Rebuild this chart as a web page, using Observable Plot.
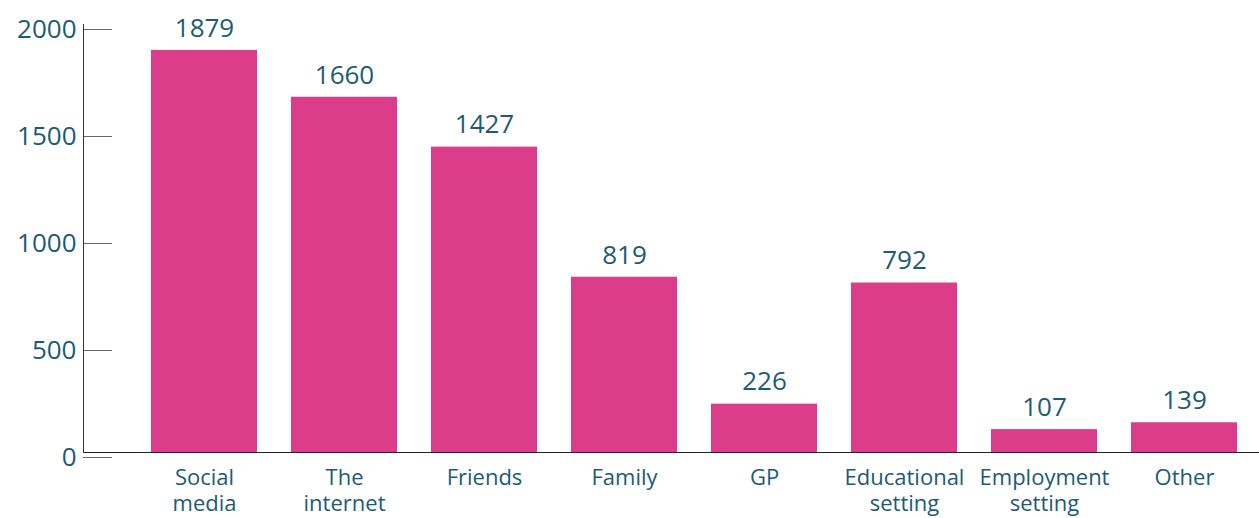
<!DOCTYPE html>
<html>
<head>
<meta charset="utf-8">
<script src="https://cdn.jsdelivr.net/npm/d3@7"></script>
<script src="https://cdn.jsdelivr.net/npm/@observablehq/plot@0.6"></script>
<style>
  html, body { margin: 0; padding: 0; background: #fff; }
  #chart svg { display: block; }
</style>
</head>
<body>
<div id="chart"></div>
<script>
const categories = ["Social media", "The internet", "Friends", "Family", "GP", "Educational setting", "Employment setting", "Other"];
const values = [1879, 1660, 1427, 819, 226, 792, 107, 139];
const tickLabels = ["Social\nmedia", "The\ninternet", "Friends", "Family", "GP", "Educational\nsetting", "Employment\nsetting", "Other"];
const yTicks = [0, 500, 1000, 1500, 2000];

const data = categories.map((c, i) => ({category: c, value: values[i]}));
const labelOf = new Map(categories.map((c, i) => [c, tickLabels[i]]));

const textColor = "#1d5b74";
const barColor = "#db3d8b";

const chart = Plot.plot({
  width: 1259,
  height: 518,
  marginLeft: 83,
  marginRight: 0,
  marginTop: 24,
  marginBottom: 66,
  style: {fontFamily: "'Open Sans', Inter, sans-serif", background: "#fff"},
  x: {domain: categories, range: [134, 1254], paddingInner: 0.243, paddingOuter: 0.1215, label: null},
  y: {domain: [0, 2000], label: null},
  marks: [
    Plot.barY(data, {x: "category", y: "value", fill: barColor}),
    Plot.text(data, {x: "category", y: "value", text: d => String(d.value), dy: -22, fill: textColor, fontSize: 26}),
    Plot.axisY({ticks: yTicks, tickFormat: "d", tickSize: -29, tickPadding: 36, dy: 5, stroke: "#666", strokeOpacity: 1, fill: textColor, fontSize: 26, label: null}),
    Plot.axisX({tickSize: 0, tickPadding: 13, tickFormat: d => labelOf.get(d), fill: textColor, fontSize: 22, lineHeight: 1.22, label: null}),
    Plot.frame({anchor: "left", stroke: "#333"}),
    Plot.ruleY([0], {stroke: "#222"})
  ]
});
document.getElementById("chart").appendChild(chart);
</script>
</body>
</html>
